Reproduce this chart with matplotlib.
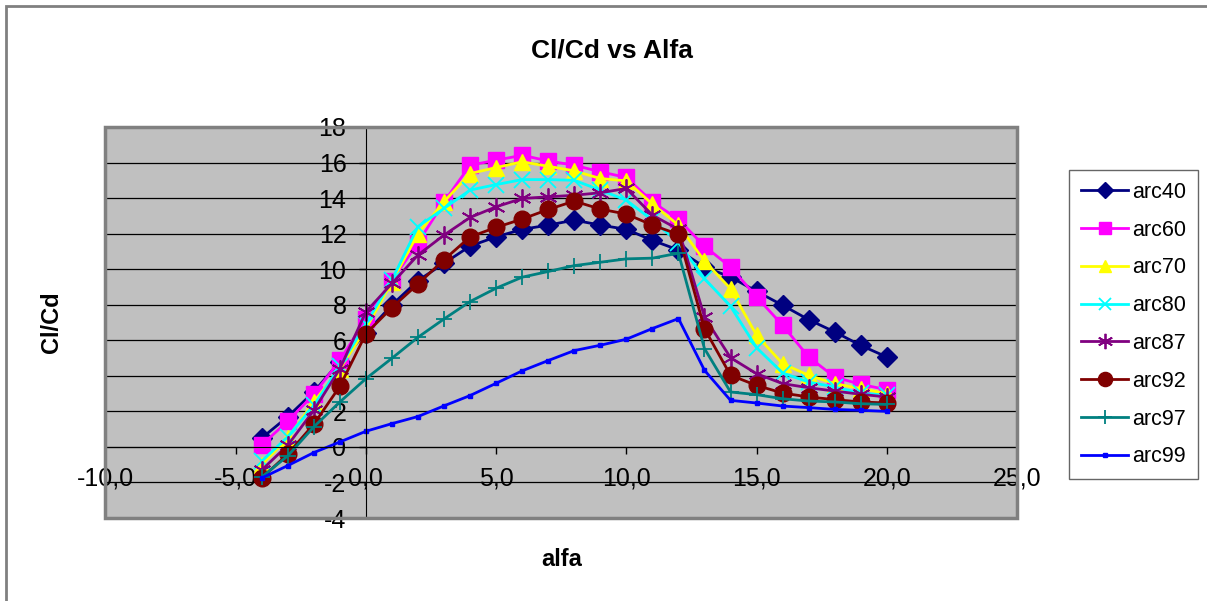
import matplotlib
matplotlib.use("Agg")
import matplotlib.pyplot as plt
from matplotlib.patches import Rectangle
from matplotlib.ticker import FuncFormatter, MultipleLocator

plt.rcParams['font.family'] = ['Liberation Sans', 'DejaVu Sans']

# angulo de ataque
alfa = [-4, -3, -2, -1, 0, 1, 2, 3, 4, 5, 6, 7, 8, 9, 10, 11, 12,
        13, 14, 15, 16, 17, 18, 19, 20]

arc40 = [0.5, 1.7, 3.1, 4.8, 6.4, 7.99, 9.36, 10.33, 11.3, 11.82, 12.24, 12.48, 12.76,
         12.48, 12.24, 11.62, 11.08, 10.12, 9.56, 8.75, 7.97, 7.16, 6.47, 5.71, 5.06]
arc60 = [0.11, 1.45, 2.96, 4.87, 7.21, 9.36, 11.49, 13.79, 15.85, 16.13, 16.41, 16.09, 15.85,
         15.48, 15.16, 13.79, 12.8, 11.29, 10.12, 8.44, 6.84, 5.06, 3.93, 3.52, 3.22]
arc70 = [-1.0, 0.5, 2.53, 4.4, 6.65, 9.3, 12.0, 13.8, 15.38, 15.72, 16.04, 15.79, 15.53,
         15.1, 14.97, 13.66, 12.48, 10.46, 8.9, 6.28, 4.68, 4.03, 3.56, 3.28, 3.0]
arc80 = [-0.8, 0.57, 2.34, 4.53, 6.93, 9.4, 12.4, 13.42, 14.45, 14.76, 15.04, 15.04, 15.0,
         14.45, 13.88, 12.76, 11.5, 9.47, 7.91, 5.58, 4.16, 3.65, 3.37, 3.03, 2.9]
arc87 = [-1.3, 0.1, 2.06, 4.4, 7.6, 9.2, 10.8, 11.92, 12.91, 13.51, 13.98, 14.07, 14.16,
         14.3, 14.54, 13.04, 12.24, 7.31, 5.02, 4.12, 3.56, 3.33, 3.14, 2.96, 2.81]
arc92 = [-1.75, -0.4, 1.28, 3.41, 6.37, 7.84, 9.17, 10.53, 11.82, 12.35, 12.82, 13.36, 13.83,
         13.38, 13.1, 12.48, 11.96, 6.65, 4.03, 3.46, 3.03, 2.81, 2.66, 2.53, 2.47]
arc97 = [-1.7, -0.5, 1.13, 2.53, 3.84, 4.99, 6.17, 7.2, 8.18, 8.93, 9.55, 9.87, 10.2,
         10.39, 10.58, 10.62, 10.9, 5.53, 3.09, 2.94, 2.71, 2.58, 2.53, 2.43, 2.39]
arc99 = [-1.75, -1.05, -0.32, 0.28, 0.88, 1.31, 1.71, 2.31, 2.89, 3.58, 4.28, 4.86, 5.42,
         5.72, 6.06, 6.66, 7.22, 4.31, 2.62, 2.47, 2.3, 2.21, 2.11, 2.06, 2.0]

asterisco = (6, 2, 0)
series = [
    ('arc40', arc40, '#000080', 'D', 10, 1),
    ('arc60', arc60, '#FF00FF', 's', 11, 1),
    ('arc70', arc70, '#FFFF00', '^', 11, 1),
    ('arc80', arc80, '#00FFFF', 'x', 11, 1.3),
    ('arc87', arc87, '#800080', asterisco, 13, 1.3),
    ('arc92', arc92, '#800000', 'o', 12, 1),
    ('arc97', arc97, '#008080', '+', 12, 1.3),
    ('arc99', arc99, '#0000FF', 's', 3.5, 1),
]

fig = plt.figure(figsize=(12.07, 6.01), dpi=100)
ax = fig.add_axes([0.0874, 0.1381, 0.8426 - 0.0874, 0.7887 - 0.1381])
ax.set_facecolor('#C0C0C0')

for nombre, valores, color, marca, ms, mew in series:
    if marca in ('x', '+', asterisco):
        ax.plot(alfa, valores, color=color, lw=2, marker=marca, ms=ms,
                mew=mew, label=nombre)
    else:
        ax.plot(alfa, valores, color=color, lw=2, marker=marca, ms=ms,
                mec=color, mfc=color, label=nombre)

ax.set_xlim(-10, 25)
ax.set_ylim(-4, 18)
ax.xaxis.set_major_locator(MultipleLocator(5))
ax.yaxis.set_major_locator(MultipleLocator(2))
ax.xaxis.set_major_formatter(FuncFormatter(lambda v, p: f"{v:.1f}".replace('.', ',')))
ax.yaxis.set_major_formatter(FuncFormatter(lambda v, p: f"{v:.0f}"))
ax.grid(axis='y', color='black', lw=0.9)
ax.set_axisbelow(True)

# ejes cruzando en cero, como en excel
ax.spines['left'].set_position(('data', 0))
ax.spines['bottom'].set_position(('data', 0))
ax.spines['top'].set_visible(False)
ax.spines['right'].set_visible(False)
ax.tick_params(axis='x', direction='out', length=5, width=1, labelsize=18, pad=9)
ax.tick_params(axis='y', direction='out', length=5, width=1, labelsize=18, pad=9)

# borde del area de trazado
ax.add_patch(Rectangle((0, 0), 1, 1, transform=ax.transAxes, fill=False,
                       edgecolor='#808080', lw=2.5, clip_on=False, zorder=3))

ax.set_xlabel('alfa', fontsize=17, fontweight='bold')
ax.xaxis.set_label_coords(0.5, -0.077)
ax.set_ylabel('Cl/Cd', fontsize=17, fontweight='bold')
ax.yaxis.set_label_coords(-0.047, 0.5)

fig.text(612 / 1207, 1 - 50 / 601, 'Cl/Cd vs Alfa', fontsize=19, fontweight='bold',
         ha='center', va='center')

# borde exterior del grafico
fig.patches.append(Rectangle((6 / 1207, -0.2), 1.2, 1.2 - 6 / 601,
                             transform=fig.transFigure, fill=False,
                             edgecolor='#808080', lw=2))

leg = fig.legend(loc='upper left', bbox_to_anchor=(1069 / 1207, 1 - 170 / 601),
                 fontsize=15.5, frameon=True, fancybox=False, edgecolor='#404040',
                 labelspacing=0.78, handlelength=2.2, handletextpad=0.2,
                 borderpad=0.55, borderaxespad=0, markerscale=0.85)
leg.get_frame().set_linewidth(1)

fig.savefig('out.png', dpi=100)
